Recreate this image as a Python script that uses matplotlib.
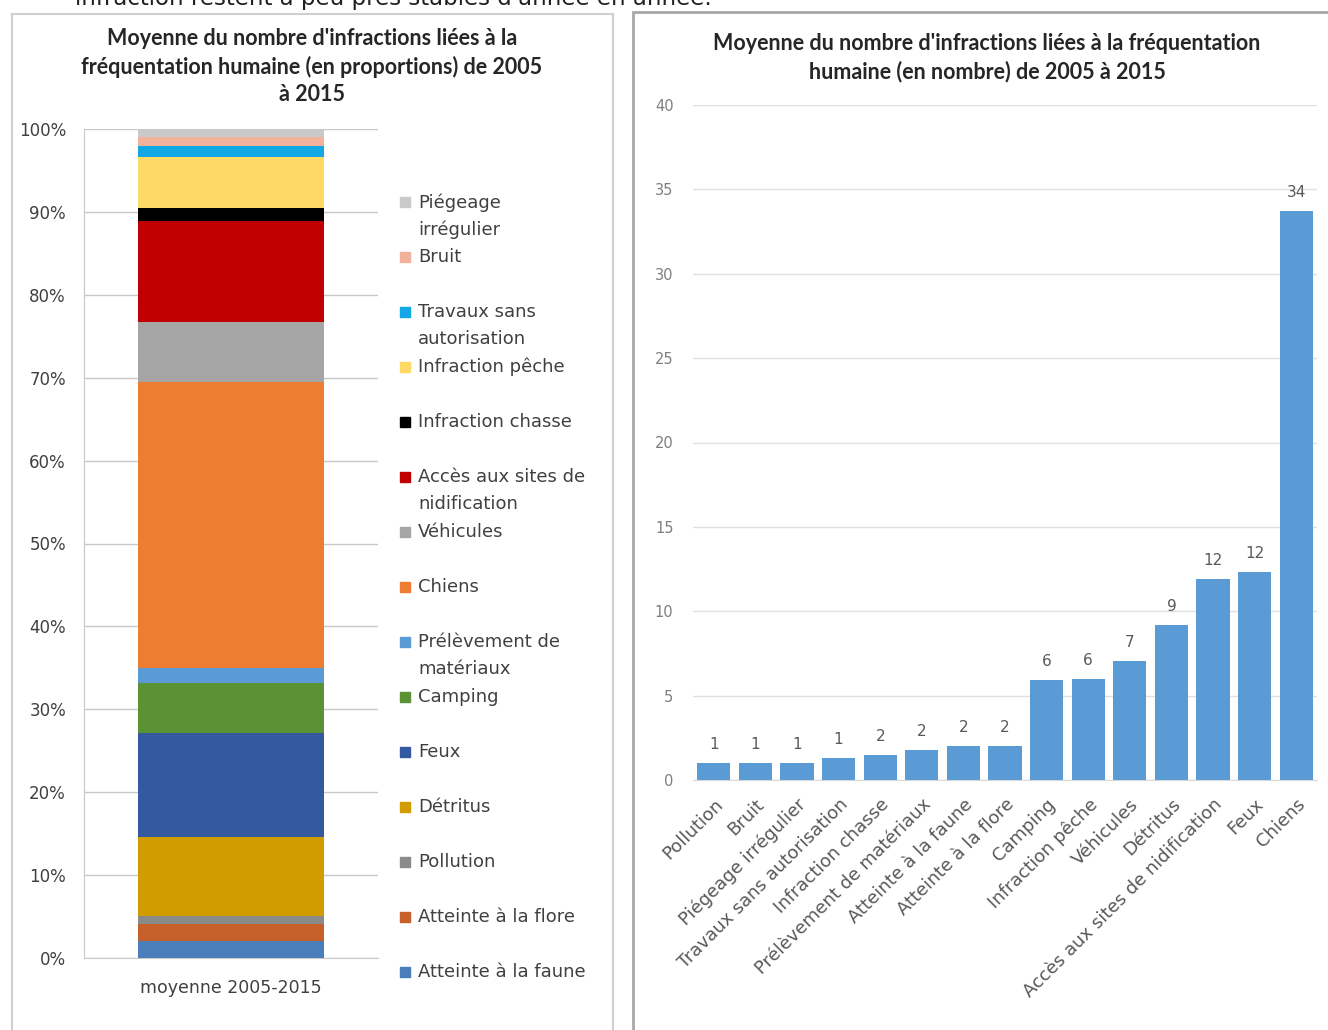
import matplotlib
matplotlib.use("Agg")
import matplotlib.pyplot as plt
from matplotlib.patches import Rectangle
from matplotlib.transforms import ScaledTranslation
import numpy as np

# ---- data ----
categories = ["Pollution", "Bruit", "Piégeage irrégulier", "Travaux sans autorisation",
              "Infraction chasse", "Prélèvement de matériaux", "Atteinte à la faune",
              "Atteinte à la flore", "Camping", "Infraction pêche", "Véhicules",
              "Détritus", "Accès aux sites de nidification", "Feux", "Chiens"]
counts = [1.0, 1.0, 1.0, 1.3, 1.5, 1.8, 2.0, 2.0, 5.9, 6.0, 7.05, 9.2, 11.9, 12.3, 33.7]

# stacking order (bottom -> top) for the proportion chart
stack_order = ["Atteinte à la faune", "Atteinte à la flore", "Pollution", "Détritus", "Feux",
               "Camping", "Prélèvement de matériaux", "Chiens", "Véhicules",
               "Accès aux sites de nidification", "Infraction chasse", "Infraction pêche",
               "Travaux sans autorisation", "Bruit", "Piégeage irrégulier"]
stack_colors = ["#4a7ebb", "#c65f2a", "#8a8a8a", "#d09c00", "#3359a1",
                "#5b9236", "#5b9bd5", "#ed7d31", "#a5a5a5",
                "#c00000", "#000000", "#ffd966",
                "#12a8e6", "#f2b19a", "#c9c9c9"]
legend_labels = {"Piégeage irrégulier": "Piégeage\nirrégulier",
                 "Travaux sans autorisation": "Travaux sans\nautorisation",
                 "Accès aux sites de nidification": "Accès aux sites de\nnidification",
                 "Prélèvement de matériaux": "Prélèvement de\nmatériaux",
                 "Détritus": "Détritus"}
bar_label = "moyenne 2005-2015"
left_title = "Moyenne du nombre d'infractions liées à la\nfréquentation humaine (en proportions) de 2005\nà 2015"
right_title = "Moyenne du nombre d'infractions liées à la fréquentation\nhumaine (en nombre) de 2005 à 2015"
top_text = "infraction restent à peu près stables d'année en année."

W, H = 1328, 1030
fig = plt.figure(figsize=(W / 100, H / 100), dpi=100)

def fx(px):
    return px / W

def fy(py):
    return 1 - py / H

# panel borders
fig.patches.append(Rectangle((fx(12), fy(1035)), fx(613) - fx(12), fy(14) - fy(1035),
                             transform=fig.transFigure, fill=False, ec="#d0d0d0", lw=1.5))
fig.patches.append(Rectangle((fx(633), fy(1035)), fx(1335) - fx(633), fy(12) - fy(1035),
                             transform=fig.transFigure, fill=False, ec="#a8a8a8", lw=2))

fig.text(fx(75), fy(5), top_text, fontsize=16.5, family="DejaVu Sans", color="#202020",
         va="baseline", ha="left")

title_font = "Lato"
txt_col = "#404040"

# ---- left stacked chart ----
axL = fig.add_axes([fx(84), fy(958), fx(378) - fx(84), fy(129) - fy(958)])
cnt = dict(zip(categories, counts))
total = sum(counts)
bottom = 0.0
for name, col in zip(stack_order, stack_colors):
    v = cnt[name] / total * 100
    axL.bar([0], [v], bottom=bottom, width=0.633, color=col, zorder=3)
    bottom += v
axL.set_xlim(-0.5, 0.5)
axL.set_ylim(0, 100)
axL.set_yticks(np.arange(0, 101, 10))
axL.set_yticklabels([f"{t}%" for t in range(0, 101, 10)], fontsize=12, color=txt_col,
                    family="DejaVu Sans")
axL.set_xticks([0])
axL.set_xticklabels([bar_label], fontsize=12.5, color=txt_col, family="DejaVu Sans")
axL.tick_params(length=0)
axL.tick_params(axis="y", pad=13)
axL.tick_params(axis="x", pad=15)
axL.grid(axis="y", color="#c8c8c8", lw=1, zorder=0)
for s in ["top", "right"]:
    axL.spines[s].set_visible(False)
axL.spines["left"].set_color("#c8c8c8")
axL.spines["bottom"].set_color("#c8c8c8")
fig.text(fx(312), fy(28), left_title, ha="center", va="top", fontsize=15.5,
         fontweight="bold", family=title_font, color="#262626", linespacing=1.36)

# legend (top -> bottom)
leg_items = list(zip(stack_order, stack_colors))[::-1]
y0 = 201
for i, (name, col) in enumerate(leg_items):
    yy = y0 + i * 55.0
    fig.patches.append(Rectangle((fx(400), fy(yy + 6)), fx(410) - fx(400), fy(yy - 4) - fy(yy + 6),
                                 transform=fig.transFigure, color=col))
    fig.text(fx(418), fy(yy - 8), legend_labels.get(name, name), ha="left", va="top",
             fontsize=13, family="DejaVu Sans", color=txt_col, linespacing=1.62)

# ---- right bar chart ----
axR = fig.add_axes([fx(693), fy(780), fx(1317) - fx(693), fy(105) - fy(780)])
x = np.arange(len(categories))
bars = axR.bar(x, counts, width=0.8, color="#5b9bd5", zorder=3)
for xi, v in zip(x, counts):
    axR.text(xi, v + 0.65, f"{v:.0f}", ha="center", va="bottom", fontsize=11,
             color="#595959", family="DejaVu Sans")
axR.set_xlim(-0.5, len(categories) - 0.5)
axR.set_ylim(0, 40)
axR.set_yticks(range(0, 41, 5))
axR.set_yticklabels([str(t) for t in range(0, 41, 5)], fontsize=10.5, color="#7f7f7f",
                    family="DejaVu Sans")
axR.set_xticks(x)
axR.set_xticklabels(categories, rotation=45, ha="right", rotation_mode="anchor",
                    fontsize=13, color="#595959", family="DejaVu Sans")
shift = ScaledTranslation(-5 / 100, 0, fig.dpi_scale_trans)
for lab in axR.get_xticklabels():
    lab.set_transform(lab.get_transform() + shift)
axR.tick_params(length=0)
axR.tick_params(axis="y", pad=14)
axR.tick_params(axis="x", pad=11)
axR.grid(axis="y", color="#e0e0e0", lw=1, zorder=0)
for s in ["top", "right", "left"]:
    axR.spines[s].set_visible(False)
axR.spines["bottom"].set_color("#d9d9d9")
fig.text(fx(987), fy(33), right_title, ha="center", va="top", fontsize=15.5,
         fontweight="bold", family=title_font, color="#262626", linespacing=1.36)

fig.savefig("out.png", dpi=100)
